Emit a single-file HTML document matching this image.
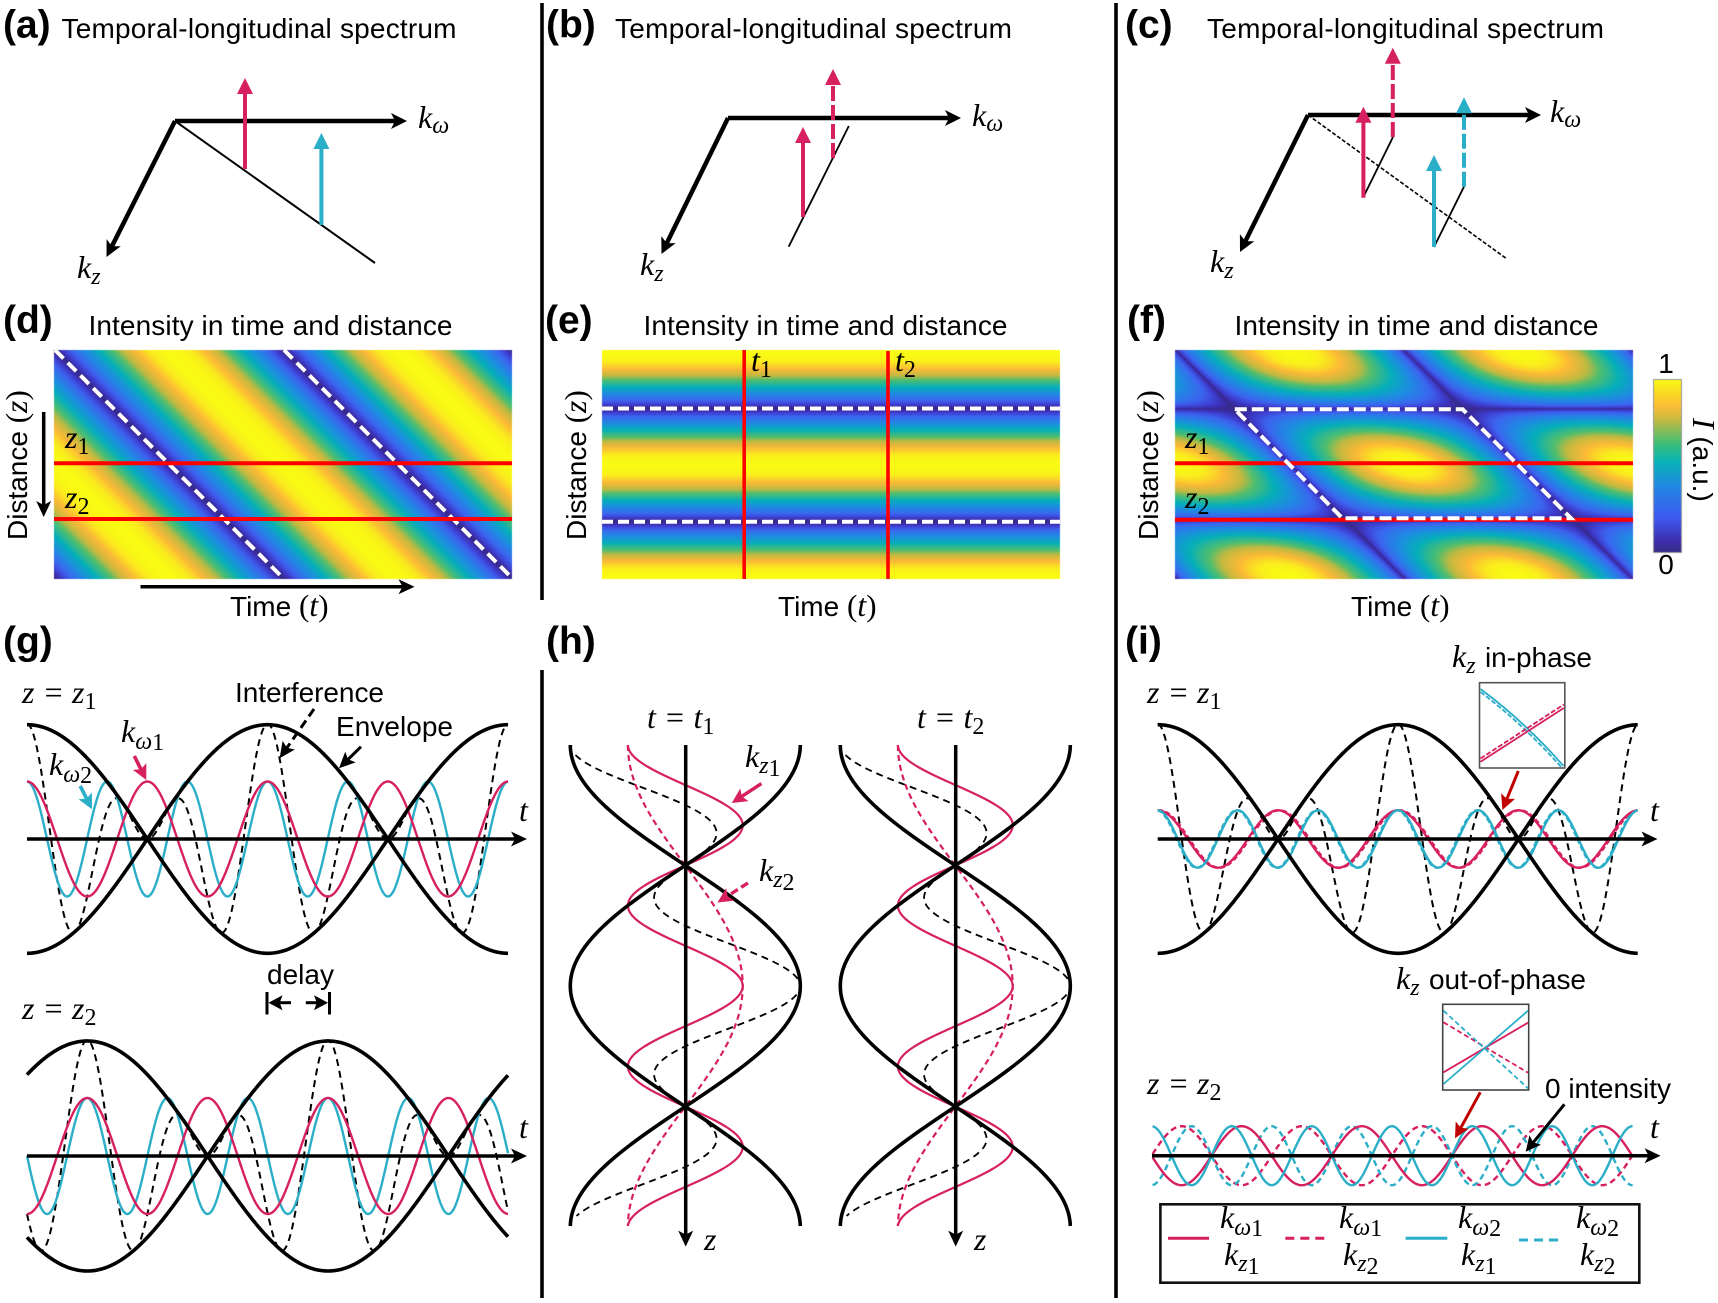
<!DOCTYPE html>
<html><head><meta charset="utf-8">
<style>
html,body{margin:0;padding:0;background:#fff;width:1718px;height:1303px;overflow:hidden}
#c{position:absolute;left:0;top:0}
#s{position:absolute;left:0;top:0}
text{fill:#000}
.t{font:28px "Liberation Sans",sans-serif}
.b{font:bold 39px "Liberation Sans",sans-serif}
.m{font:italic 32px "Liberation Serif",serif}
.s{font:italic 24px "Liberation Serif",serif}
.n{font:24px "Liberation Serif",serif}
.r{font:31px "Liberation Serif",serif}
</style></head><body>
<canvas id="c" width="1718" height="1303"></canvas>
<svg id="s" width="1718" height="1303" viewBox="0 0 1718 1303" xmlns="http://www.w3.org/2000/svg">
<g id="g"></g>
<g id="txt">
<text class="b" x="3" y="37.5">(a)</text>
<text class="t" x="61.5" y="38" textLength="395">Temporal-longitudinal spectrum</text>
<text class="m" x="418" y="128">k<tspan class="s" dy="5">ω</tspan></text>
<text class="m" x="77" y="278">k<tspan class="s" dy="6">z</tspan></text>

<text class="b" x="546" y="37.5">(b)</text>
<text class="t" x="615" y="38" textLength="397">Temporal-longitudinal spectrum</text>
<text class="m" x="972" y="126">k<tspan class="s" dy="5">ω</tspan></text>
<text class="m" x="640" y="275">k<tspan class="s" dy="6">z</tspan></text>

<text class="b" x="1125" y="37.5">(c)</text>
<text class="t" x="1207" y="38" textLength="397">Temporal-longitudinal spectrum</text>
<text class="m" x="1550" y="122">k<tspan class="s" dy="5">ω</tspan></text>
<text class="m" x="1210" y="272">k<tspan class="s" dy="6">z</tspan></text>

<text class="b" x="3" y="333">(d)</text>
<text class="t" x="88.5" y="335" textLength="364">Intensity in time and distance</text>
<text class="b" x="545" y="333">(e)</text>
<text class="t" x="643.5" y="335" textLength="364">Intensity in time and distance</text>
<text class="b" x="1127" y="333">(f)</text>
<text class="t" x="1234.5" y="335" textLength="364">Intensity in time and distance</text>

<text class="t" transform="translate(27,540) rotate(-90)">Distance <tspan class="r">(</tspan><tspan class="m">z</tspan><tspan class="r">)</tspan></text>
<text class="t" transform="translate(586,540) rotate(-90)">Distance <tspan class="r">(</tspan><tspan class="m">z</tspan><tspan class="r">)</tspan></text>
<text class="t" transform="translate(1158,540) rotate(-90)">Distance <tspan class="r">(</tspan><tspan class="m">z</tspan><tspan class="r">)</tspan></text>

<text class="t" x="230" y="616">Time <tspan class="r">(</tspan><tspan class="m">t</tspan><tspan class="r">)</tspan></text>
<text class="t" x="778" y="616">Time <tspan class="r">(</tspan><tspan class="m">t</tspan><tspan class="r">)</tspan></text>
<text class="t" x="1351" y="616">Time <tspan class="r">(</tspan><tspan class="m">t</tspan><tspan class="r">)</tspan></text>

<text class="m" x="65" y="448">z<tspan class="n" dy="6">1</tspan></text>
<text class="m" x="65" y="508">z<tspan class="n" dy="6">2</tspan></text>
<text class="m" x="1185" y="448">z<tspan class="n" dy="6">1</tspan></text>
<text class="m" x="1185" y="508">z<tspan class="n" dy="6">2</tspan></text>
<text class="m" x="751" y="371">t<tspan class="n" dy="6">1</tspan></text>
<text class="m" x="895" y="371">t<tspan class="n" dy="6">2</tspan></text>

<text class="t" x="1666" y="373" text-anchor="middle">1</text>
<text class="t" x="1666" y="574" text-anchor="middle">0</text>
<text class="t" transform="translate(1693,418) rotate(90)"><tspan class="m">I</tspan> (a.u.)</text>

<text class="b" x="3" y="654">(g)</text>
<text class="b" x="546" y="654">(h)</text>
<text class="b" x="1125" y="654">(i)</text>

<text class="m" x="22" y="703">z = z<tspan class="n" dy="6">1</tspan></text>
<text class="t" x="235" y="702" textLength="149">Interference</text>
<text class="t" x="336" y="736" textLength="117">Envelope</text>
<text class="m" x="121" y="742">k<tspan class="s" dy="7">ω</tspan><tspan class="n" dy="1">1</tspan></text>
<text class="m" x="49" y="775">k<tspan class="s" dy="7">ω</tspan><tspan class="n" dy="1">2</tspan></text>
<text class="m" x="519" y="821">t</text>
<text class="t" x="267" y="984">delay</text>
<text class="m" x="22" y="1019">z = z<tspan class="n" dy="6">2</tspan></text>
<text class="m" x="519" y="1138">t</text>

<text class="m" x="647" y="728">t = t<tspan class="n" dy="6">1</tspan></text>
<text class="m" x="917" y="728">t = t<tspan class="n" dy="6">2</tspan></text>
<text class="m" x="745" y="767">k<tspan class="s" dy="6">z</tspan><tspan class="n" dy="3">1</tspan></text>
<text class="m" x="759" y="881">k<tspan class="s" dy="6">z</tspan><tspan class="n" dy="3">2</tspan></text>
<text class="m" x="704" y="1250">z</text>
<text class="m" x="974" y="1250">z</text>

<text class="m" x="1147" y="703">z = z<tspan class="n" dy="6">1</tspan></text>
<text class="m" x="1452" y="667">k<tspan class="s" dy="6">z</tspan></text>
<text class="t" x="1485" y="667" textLength="107">in-phase</text>
<text class="m" x="1650" y="821">t</text>
<text class="m" x="1396" y="989">k<tspan class="s" dy="6">z</tspan></text>
<text class="t" x="1429" y="989" textLength="157">out-of-phase</text>
<text class="m" x="1147" y="1094">z = z<tspan class="n" dy="6">2</tspan></text>
<text class="t" x="1545" y="1098" textLength="126">0 intensity</text>
<text class="m" x="1650" y="1138">t</text>

<text class="m" x="1220" y="1228">k<tspan class="s" dy="7">ω</tspan><tspan class="n" dy="1">1</tspan></text>
<text class="m" x="1224" y="1265">k<tspan class="s" dy="6">z</tspan><tspan class="n" dy="3">1</tspan></text>
<text class="m" x="1339" y="1228">k<tspan class="s" dy="7">ω</tspan><tspan class="n" dy="1">1</tspan></text>
<text class="m" x="1343" y="1265">k<tspan class="s" dy="6">z</tspan><tspan class="n" dy="3">2</tspan></text>
<text class="m" x="1458" y="1228">k<tspan class="s" dy="7">ω</tspan><tspan class="n" dy="1">2</tspan></text>
<text class="m" x="1461" y="1265">k<tspan class="s" dy="6">z</tspan><tspan class="n" dy="3">1</tspan></text>
<text class="m" x="1576" y="1228">k<tspan class="s" dy="7">ω</tspan><tspan class="n" dy="1">2</tspan></text>
<text class="m" x="1580" y="1265">k<tspan class="s" dy="6">z</tspan><tspan class="n" dy="3">2</tspan></text>
</g>
</svg>
<script>
(function(){
var PK='#d6205f',CY='#2baec8',RD='#ff0000',DR='#c00000',K='#000';
var G=document.getElementById('g'),NS='http://www.w3.org/2000/svg';
function el(n,a){var e=document.createElementNS(NS,n);for(var k in a)e.setAttribute(k,a[k]);G.appendChild(e);return e;}
function L(x1,y1,x2,y2,c,w,d){var a={x1:x1,y1:y1,x2:x2,y2:y2,stroke:c,'stroke-width':w};if(d)a['stroke-dasharray']=d;return el('line',a);}
function A(x1,y1,x2,y2,c,w,hl,hw,notch,d){
  var dx=x2-x1,dy=y2-y1,l=Math.hypot(dx,dy),ux=dx/l,uy=dy/l,nx=-uy,ny=ux;
  var bx=x2-ux*hl*notch,by=y2-uy*hl*notch;
  L(x1,y1,bx+ux*1,by+uy*1,c,w,d);
  var p=[[x2,y2],[x2-ux*hl+nx*hw/2,y2-uy*hl+ny*hw/2],[bx,by],[x2-ux*hl-nx*hw/2,y2-uy*hl-ny*hw/2]];
  el('polygon',{points:p.map(function(q){return q[0].toFixed(1)+','+q[1].toFixed(1)}).join(' '),fill:c});
}
function VA(x,yb,yt,c,d){A(x,yb,x,yt,c,4,16,16,1,d);}
function H(f,x0,x1,c,w,d){var s='';for(var x=x0;x<=x1+.01;x+=1){s+=(s?'L':'M')+x.toFixed(1)+' '+f(x).toFixed(2);}
  var a={d:s,fill:'none',stroke:c,'stroke-width':w};if(d)a['stroke-dasharray']=d;el('path',a);}
function V(f,y0,y1,c,w,d){var s='';for(var y=y0;y<=y1+.01;y+=1){s+=(s?'L':'M')+f(y).toFixed(2)+' '+y.toFixed(1);}
  var a={d:s,fill:'none',stroke:c,'stroke-width':w};if(d)a['stroke-dasharray']=d;el('path',a);}
var PI2=Math.PI*2;

/* dividers */
L(542,3,542,600,K,3.6);L(542,670,542,1298,K,3.6);L(1116,3,1116,1298,K,3.6);

/* panel a */
L(175,121,375,263,K,2);
A(175,121,407,121,K,4.5,16,16,.75);
A(175,121,106.5,257,K,4.5,16,16,.75);
VA(245,169,78,PK);VA(321.4,225,133,CY);
/* panel b */
L(788.7,246.7,848.8,126,K,1.8);
A(728,118,961,118,K,4.5,16,16,.75);
A(728,118,661.5,254,K,4.5,16,16,.75);
VA(803,217,127,PK);VA(833,158,69,PK,'15 4');
/* panel c */
L(1308,115,1507,259,K,1.6,'4 2');
L(1363.4,197,1393,137,K,1.8);L(1434,247,1464,186.7,K,1.8);
A(1308,115,1541,115,K,4.5,16,16,.75);
A(1308,115,1240,252,K,4.5,16,16,.75);
VA(1363.4,197.7,106.7,PK);VA(1392.8,137,47.7,PK,'15 4');
VA(1434,247,155,CY);VA(1464,186.7,97.3,CY,'15 4');

/* heatmaps */
var FS=[[0,53,42,135],[.05,58,45,165],[.11,62,60,205],[.22,60,100,240],[.4,30,140,225],[.56,5,175,185],[.71,80,190,110],[.79,190,185,65],[.89,252,185,55],[.96,250,235,30],[1,249,251,20]];
var CS=[[0,53,42,135],[.07,62,48,175],[.2,60,90,240],[.38,35,135,228],[.52,8,178,185],[.63,60,190,120],[.77,200,185,65],[.85,252,190,55],[.93,250,220,35],[1,249,251,20]];
function cm(v,st){v=Math.max(0,Math.min(1,v));for(var i=1;i<st.length;i++){if(v<=st[i][0]){var a=st[i-1],b=st[i],t=(v-a[0])/(b[0]-a[0]);return [a[1]+(b[1]-a[1])*t,a[2]+(b[2]-a[2])*t,a[3]+(b[3]-a[3])*t];}}return [249,251,20];}
var ctx=document.getElementById('c').getContext('2d');
function heat(x0,y0,w,h,f,st){var im=ctx.createImageData(w,h),d=im.data;for(var j=0;j<h;j++)for(var i=0;i<w;i++){var c=cm(f(x0+i+.5,y0+j+.5),st),o=(j*w+i)*4;d[o]=c[0];d[o+1]=c[1];d[o+2]=c[2];d[o+3]=255;}ctx.putImageData(im,x0,y0);}
var as=function(t){return Math.abs(Math.sin(Math.PI*t));};
heat(54,350,458,229,function(x,y){return as((x-55-(y-350))/228.6);},FS);
heat(602,350,458,229,function(x,y){return as((y-408.5)/113.3);},FS);
heat(1175,350,458,229,function(x,y){var yy=(y-409);return Math.pow(as(yy/111)*as((x-1234.8-yy)/228),.65);},FS);
heat(1654,380,27,172,function(x,y){return (552-y)/172;},CS);
ctx.strokeStyle='#999';ctx.lineWidth=1;ctx.strokeRect(1653.5,379.5,28,173);

/* d overlays */
L(55,350,283,578,'#fff',4,'12 6');L(284,350,512,578,'#fff',4,'12 6');
L(54,463.3,512,463.3,RD,4);L(54,519,512,519,RD,4);
A(43.7,412,43.7,517,K,3.5,16,15,.75);
A(140.5,586.7,414.5,586.7,K,3.5,16,15,.75);
/* e overlays */
L(602,408.5,1060,408.5,'#fff',4,'11 5');L(602,521.7,1060,521.7,'#fff',4,'11 5');
L(744.2,350,744.2,579,RD,3.6);L(888,351,888,579,RD,3.6);
/* f overlays */
L(1175,463.3,1633,463.3,RD,4);L(1175,519.7,1633,519.7,RD,4);
el('path',{d:'M1234.8 409.3L1462.6 409.3L1571 518.3L1342.4 518.3Z',fill:'none',stroke:'#fff','stroke-width':4,'stroke-dasharray':'12 5'});

/* panel g top */
(function(){
 var x0=27,x1=508,y=839,A1=57.5,E=114.3,c=function(x,p){return Math.cos(PI2*(x-x0)/p);};
 H(function(x){return y-A1*(c(x,120.3)+c(x,80.2));},x0,x1,K,2,'7 5');
 H(function(x){return y-A1*c(x,80.2);},x0,x1,CY,2.4);
 H(function(x){return y-A1*c(x,120.3);},x0,x1,PK,2.4);
 H(function(x){return y-E*c(x,481.2);},x0,x1,K,3.6);
 H(function(x){return y+E*c(x,481.2);},x0,x1,K,3.6);
 A(27,y,527,y,K,3.5,16,15,.75);
 A(314,709,279.6,758.3,K,3,16,15,.8,'9 5');
 A(361,746.7,339,768.3,K,3,16,15,.8);
 A(134.3,756,146.3,780,PK,3.6,15,15,.8);
 A(80.2,786,92,809.3,CY,3.6,15,15,.8);
})();
/* panel g bottom */
(function(){
 var x0=87.2,xa=27,x1=508,y=1156,A1=58,E=115,c=function(x,p){return Math.cos(PI2*(x-x0)/p);};
 H(function(x){return y-A1*(c(x,120.4)+c(x,80.27));},xa,x1,K,2,'7 5');
 H(function(x){return y-A1*c(x,80.27);},xa,x1,CY,2.4);
 H(function(x){return y-A1*c(x,120.4);},xa,x1,PK,2.4);
 H(function(x){return y-E*c(x,481.6);},xa,x1,K,3.6);
 H(function(x){return y+E*c(x,481.6);},xa,x1,K,3.6);
 A(27,y,527,y,K,3.5,16,15,.75);
 L(267,992,267,1014.5,K,3);L(329.5,992,329.5,1014.5,K,3);
 A(291,1002.7,268.5,1002.7,K,3,14,15,.8);
 A(305.8,1002.7,328,1002.7,K,3,14,15,.8);
})();

/* panel h */
function hplot(ox){
 var c=function(y,p){return Math.cos(PI2*(y-986)/p);},y0=745,y1=1226,A1=57.4,E=115;
 V(function(y){return ox+A1*(c(y,160.8)+c(y,482.4));},y0+10,y1-10,K,1.8,'7 5');
 V(function(y){return ox+A1*c(y,482.4);},y0,y1,PK,2.2,'6 4');
 V(function(y){return ox+A1*c(y,160.8);},y0,y1,PK,2.2);
 V(function(y){return ox+E*c(y,482.4);},y0,y1,K,3.6);
 V(function(y){return ox-E*c(y,482.4);},y0,y1,K,3.6);
 A(ox+.4,745,ox+.4,1246.6,K,3.5,16,15,.75);
}
hplot(685.3);hplot(955.3);
A(761.4,783.6,731.8,803,PK,3.4,15,15,.8);
A(747.9,883,717.5,902.5,PK,3.4,15,15,.8,'8 4');

/* panel i top */
(function(){
 var x0=1157.7,x1=1638.5,y=839,A1=28.7,E=114.3,c=function(x,p){return Math.cos(PI2*(x-x0)/p);};
 H(function(x){return y-2*A1*(c(x,120.2)+c(x,80.15));},x0,x1,K,2,'7 5');
 H(function(x){return y-A1*c(x-1.5,120.2);},x0,x1,PK,2.4,'5 3');
 H(function(x){return y-A1*c(x+1,80.15);},x0,x1,CY,2.4,'5 3');
 H(function(x){return y-A1*c(x,120.2);},x0,x1,PK,2.4);
 H(function(x){return y-A1*c(x,80.15);},x0,x1,CY,2.4);
 H(function(x){return y-E*c(x,481);},x0,x1,K,3.6);
 H(function(x){return y+E*c(x,481);},x0,x1,K,3.6);
 A(x0,y,1657.5,y,K,3.5,16,15,.75);
 el('rect',{x:1479.5,y:682.7,width:85.3,height:85.3,fill:'#fff',stroke:'#555','stroke-width':1.6});
 el('path',{d:'M1480.5 692Q1523 724 1562 768',fill:'none',stroke:CY,'stroke-width':1.8,'stroke-dasharray':'5 2'});
 el('path',{d:'M1480.5 689Q1525 722 1563.5 766',fill:'none',stroke:CY,'stroke-width':1.8});
 L(1480.5,758.5,1563.8,704.5,PK,1.8,'5 2');
 L(1480.5,761.7,1563.8,708,PK,1.8);
 A(1518.3,771,1502.4,810,DR,3,15,15,.8);
})();
/* panel i bottom */
(function(){
 var x0=1152.6,x1=1633.5,xz=1211.6,y=1155.7,A1=29.5,s=function(x,p){return Math.sin(PI2*(x-xz)/p);};
 H(function(x){return y+A1*s(x,120.2);},x0,x1,PK,2.4,'6 4');
 H(function(x){return y+A1*s(x,80.15);},x0,x1,CY,2.4,'6 4');
 H(function(x){return y-A1*s(x,120.2);},x0,x1,PK,2.4);
 H(function(x){return y-A1*s(x,80.15);},x0,x1,CY,2.4);
 A(1152,y,1660.6,y,K,3.5,16,15,.75);
 el('rect',{x:1442.7,y:1004.3,width:86,height:85.7,fill:'#fff',stroke:'#444','stroke-width':1.6});
 L(1443.5,1022.3,1528,1072.7,PK,1.8,'5 3');
 L(1443.5,1010.7,1528,1088.3,CY,1.8,'5 3');
 L(1443.5,1072.3,1528,1022.7,PK,1.8);
 L(1443.5,1084,1528,1010.7,CY,1.8);
 A(1480.3,1092.3,1455,1138.3,DR,3,15,15,.8);
 A(1564.4,1104.3,1525.7,1151.7,K,3,15,15,.8);
 el('rect',{x:1160.4,y:1204.3,width:478.9,height:78.4,fill:'none',stroke:'#111','stroke-width':2.6});
 L(1168,1238.3,1209,1238.3,PK,3);
 L(1285.3,1238.3,1329,1238.3,PK,3,'9 6');
 L(1405.5,1238.3,1447.3,1238.3,CY,3);
 L(1519,1240,1561.7,1240,CY,3,'9 6');
})();
})();
</script>
</body></html>
